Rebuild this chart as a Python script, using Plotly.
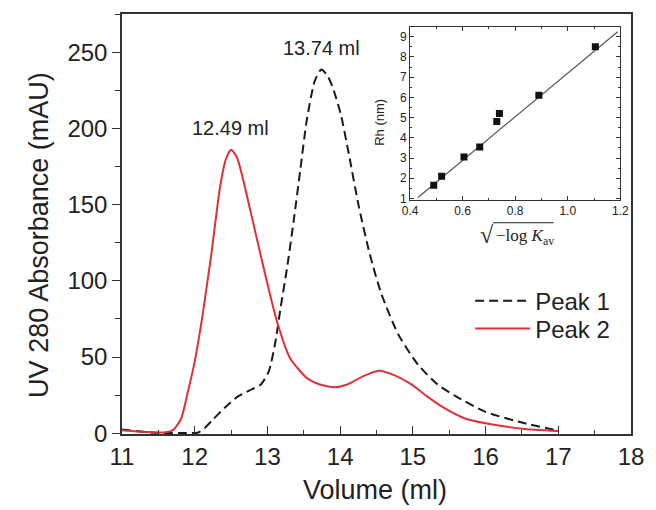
import plotly.graph_objects as go

# ---- main chromatogram data (Volume ml, absorbance mAU) ----
peak1_x = [11.0, 11.2, 11.4, 11.6, 11.8, 12.0, 12.05, 12.15, 12.25, 12.41, 12.59, 12.75, 12.91, 13.02,
           13.11, 13.18, 13.27, 13.36, 13.45, 13.54, 13.65, 13.74, 13.82, 13.90, 14.01, 14.12,
           14.26, 14.41, 14.57, 14.80, 15.07, 15.34, 15.6, 16.0, 16.5, 17.0]
peak1_y = [2.5, 1.5, 0.5, 0.2, 0.1, 0.2, 0.5, 4, 9, 16.6, 24, 28, 32, 40.7,
           60, 82, 108.5, 139, 172, 205, 231, 238.6, 235, 226.6, 209, 183,
           148, 117, 91, 64.8, 45, 32, 24, 14, 7, 1.7]

peak2_x = [11.0, 11.2, 11.4, 11.6, 11.7, 11.81, 11.92, 12.0, 12.10, 12.23, 12.35, 12.43, 12.50,
           12.58, 12.66, 12.82, 12.97, 13.13, 13.31, 13.54, 13.72, 13.92, 14.1, 14.3, 14.53,
           14.75, 14.98, 15.2, 15.43, 15.7, 16.0, 16.5, 17.0]
peak2_y = [2.0, 1.2, 0.8, 0.6, 2.0, 9.2, 30, 47, 75, 118, 162, 180, 186,
           181, 167.5, 134.7, 104, 73.5, 49.4, 36.3, 32, 30.2, 32, 37, 41,
           38, 32, 24, 16.6, 10, 6.5, 3, 1.5]

series_names = ["Peak 1", "Peak 2"]
peak_labels = ["12.49 ml", "13.74 ml"]

# ---- inset data: sqrt(-log Kav) vs Rh (nm) ----
inset_x = [0.49, 0.52, 0.605, 0.665, 0.73, 0.74, 0.89, 1.105]
inset_y = [1.65, 2.1, 3.05, 3.55, 4.8, 5.2, 6.1, 8.5]
fit_x = [0.43, 1.19]
fit_y = [1.05, 9.25]

main_xticks = [11, 12, 13, 14, 15, 16, 17, 18]
main_yticks = [0, 50, 100, 150, 200, 250]
inset_xticks = [0.4, 0.6, 0.8, 1.0, 1.2]
inset_xticktext = ["0.4", "0.6", "0.8", "1.0", "1.2"]
inset_yticks = [1, 2, 3, 4, 5, 6, 7, 8, 9]

FONT = "Liberation Sans, Arial, sans-serif"
SERIF = "Liberation Serif, Times New Roman, serif"
AX = "#333333"
RED = "#e0303a"

fig = go.Figure()
fig.add_trace(go.Scatter(x=peak1_x, y=peak1_y, mode="lines", name=series_names[0],
                         line=dict(color="#1a1a1a", width=2, dash="9px,5px", shape="spline", smoothing=0.6),
                         xaxis="x", yaxis="y", legend="legend"))
fig.add_trace(go.Scatter(x=peak2_x, y=peak2_y, mode="lines", name=series_names[1],
                         line=dict(color=RED, width=2, shape="spline", smoothing=0.6),
                         xaxis="x", yaxis="y", legend="legend2"))
fig.add_trace(go.Scatter(x=fit_x, y=fit_y, mode="lines", showlegend=False,
                         line=dict(color="#555555", width=1.2), xaxis="x2", yaxis="y2"))
fig.add_trace(go.Scatter(x=inset_x, y=inset_y, mode="markers", showlegend=False,
                         marker=dict(symbol="square", size=7, color="#111111"),
                         xaxis="x2", yaxis="y2"))

legend_common = dict(xanchor="left", yanchor="top", bgcolor="rgba(0,0,0,0)",
                     font=dict(size=24, family=FONT, color="#222222"), itemwidth=55)

fig.update_layout(
    width=656, height=510,
    margin=dict(l=122, r=15, t=13, b=76),
    paper_bgcolor="white", plot_bgcolor="white",
    font=dict(family=FONT, color="#222222"),
    xaxis=dict(domain=[0, 1], range=[11, 18], tickvals=main_xticks, ticks="inside", ticklen=8,
               tickwidth=1.3, tickcolor=AX, showline=True, linecolor=AX, linewidth=1.5, mirror=True,
               showgrid=False, zeroline=False, tickfont=dict(size=24, family=FONT),
               minor=dict(dtick=0.5, ticks="inside", ticklen=4, tickcolor=AX, showgrid=False)),
    yaxis=dict(domain=[0, 1], range=[-0.5, 275], tickvals=main_yticks, ticks="outside", ticklen=8,
               tickwidth=1.3, tickcolor=AX, showline=True, linecolor=AX, linewidth=1.5, mirror=True,
               showgrid=False, zeroline=False, tickfont=dict(size=24, family=FONT),
               minor=dict(dtick=25, ticks="outside", ticklen=5, tickcolor=AX, showgrid=False)),
    xaxis2=dict(domain=[0.566, 0.979], anchor="y2", range=[0.4, 1.2], tickvals=inset_xticks,
                ticktext=inset_xticktext,
                ticks="inside", ticklen=4, tickcolor=AX, showline=True, linecolor=AX, linewidth=1.2,
                mirror="all", showgrid=False, zeroline=False, tickfont=dict(size=12, family=FONT),
                minor=dict(dtick=0.1, ticks="inside", ticklen=2, tickcolor=AX, showgrid=False)),
    yaxis2=dict(domain=[0.558, 0.969], anchor="x2", range=[0.94, 9.48], tickvals=inset_yticks,
                ticks="inside", ticklen=4, tickcolor=AX, showline=True, linecolor=AX, linewidth=1.2,
                mirror="all", showgrid=False, zeroline=False, tickfont=dict(size=12, family=FONT),
                minor=dict(dtick=0.5, ticks="inside", ticklen=2, tickcolor=AX, showgrid=False)),
    legend=dict(x=0.684, y=0.37, **legend_common),
    legend2=dict(x=0.684, y=0.304, **legend_common),
    showlegend=True,
)

annotations = [
    dict(text=peak_labels[0], x=12.49, y=200, xref="x", yref="y", showarrow=False,
         font=dict(size=20, family=FONT), xanchor="center", yanchor="middle"),
    dict(text=peak_labels[1], x=13.74, y=253, xref="x", yref="y", showarrow=False,
         font=dict(size=20, family=FONT), xanchor="center", yanchor="middle"),
    dict(text="Volume (ml)", x=0.497, y=-0.133, xref="paper", yref="paper", showarrow=False,
         font=dict(size=27, family=FONT), xanchor="center", yanchor="middle"),
    dict(text="UV 280 Absorbance (mAU)", x=-0.162, y=0.473, xref="paper", yref="paper",
         showarrow=False, textangle=-90, font=dict(size=27, family=FONT),
         xanchor="center", yanchor="middle"),
    dict(text="Rh (nm)", x=0.507, y=0.741, xref="paper", yref="paper", showarrow=False,
         textangle=-90, font=dict(size=13, family=FONT), xanchor="center", yanchor="middle"),
    # inset x-axis title: sqrt(-log K_av), radical + overline drawn as shape
    dict(text="−log <i>K</i><sub>av</sub>", x=0.731, y=0.468, xref="paper", yref="paper",
         showarrow=False, font=dict(size=17, family=SERIF), xanchor="left", yanchor="middle"),
    dict(text="√", x=0.735, y=0.473, xref="paper", yref="paper", showarrow=False,
         font=dict(size=24, family=SERIF), xanchor="right", yanchor="middle"),
]
fig.update_layout(annotations=annotations)
fig.add_shape(type="line", xref="paper", yref="paper", x0=0.729, x1=0.848, y0=0.503, y1=0.503,
              line=dict(color="#222222", width=1))

fig.write_html("out.html", post_script="document.body.style.margin='0px';",
               config={"displayModeBar": False})
